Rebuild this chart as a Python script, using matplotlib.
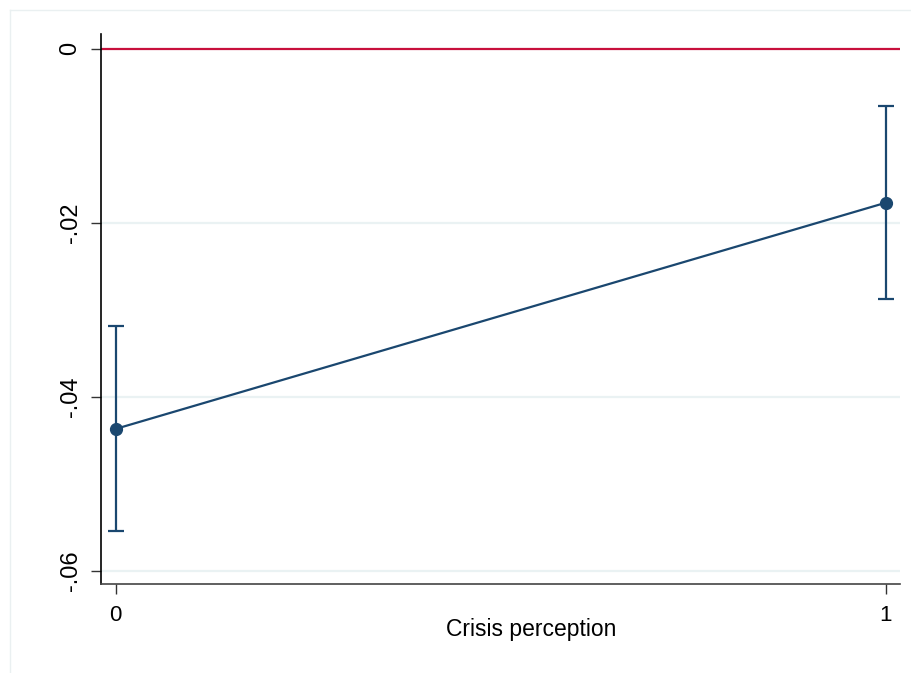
import matplotlib.pyplot as plt
from matplotlib.lines import Line2D

plt.rcParams['font.family'] = ['Liberation Sans', 'DejaVu Sans']

# marginal effects by crisis perception
crisis = [0, 1]
effect = [-0.0437, -0.0177]
ci_low = [-0.0554, -0.0288]
ci_high = [-0.0319, -0.0066]
yticks = [0, -0.02, -0.04, -0.06]
ytick_labels = ['0', '-.02', '-.04', '-.06']

navy = '#1a476f'

fig = plt.figure(figsize=(9.12, 6.73), dpi=100)
ax = fig.add_axes([0.1107, 0.1322, 0.8761, 0.8173])

# light outer frame of the graph region
fig.add_artist(Line2D([10 / 912, 1], [1 - 10 / 673, 1 - 10 / 673],
                      transform=fig.transFigure, color='#eaf0f1', lw=1))
fig.add_artist(Line2D([10 / 912, 10 / 912], [0, 1 - 10 / 673],
                      transform=fig.transFigure, color='#eaf0f1', lw=1))

for t in yticks[1:]:
    ax.axhline(t, color='#eaf2f3', lw=1.6, zorder=0)
ax.axhline(0, color='#c8103c', lw=1.6, zorder=1)

yerr = [[e - lo for e, lo in zip(effect, ci_low)],
        [hi - e for e, hi in zip(effect, ci_high)]]
ax.errorbar(crisis, effect, yerr=yerr, fmt='none', ecolor=navy,
            elinewidth=1.6, capsize=5.5, capthick=1.6, zorder=2)
ax.plot(crisis, effect, color=navy, lw=1.6, marker='o', markersize=8.5, zorder=3)

ax.set_xlim(-0.0191, 1.0182)
ax.set_ylim(-0.06153, 0.00169)
ax.set_xticks(crisis)
ax.set_xticklabels(['0', '1'])
ax.set_yticks(yticks)
ax.set_yticklabels(ytick_labels, rotation=90, va='center')

ax.tick_params(axis='both', length=7, width=1, color='#333333')
ax.tick_params(axis='y', pad=7, labelsize=17)
ax.tick_params(axis='x', pad=8, labelsize=16)

ax.spines['top'].set_visible(False)
ax.spines['right'].set_visible(False)
ax.spines['left'].set_color('black')
ax.spines['bottom'].set_color('#444444')
ax.spines['left'].set_linewidth(1.2)
ax.spines['bottom'].set_linewidth(1.2)

ax.set_xlabel('Crisis perception', fontsize=16.5)
ax.xaxis.set_label_coords(0.538, -0.062)

fig.savefig('out.png', dpi=100)
